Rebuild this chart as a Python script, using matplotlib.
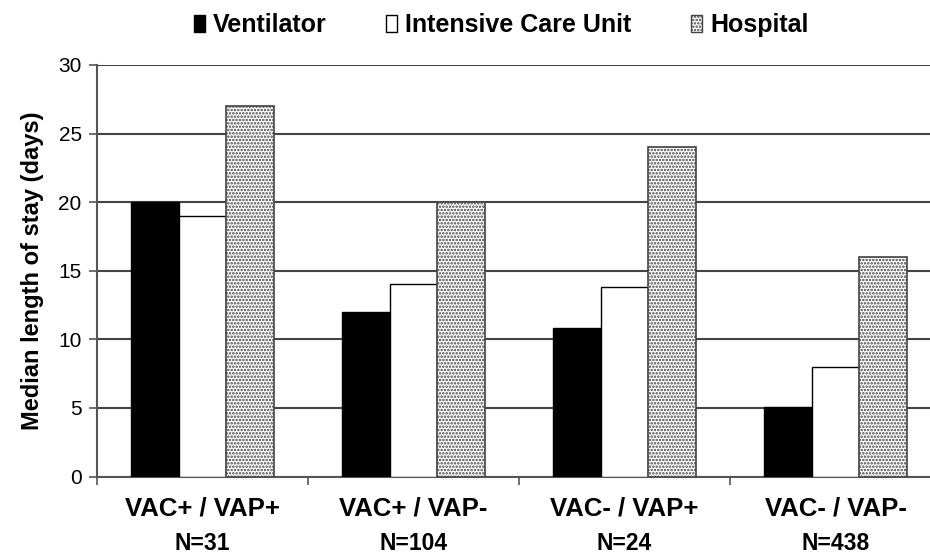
import matplotlib
matplotlib.use("Agg")
import matplotlib.pyplot as plt
import numpy as np

categories = ["VAC+ / VAP+", "VAC+ / VAP-", "VAC- / VAP+", "VAC- / VAP-"]
n_labels = ["N=31", "N=104", "N=24", "N=438"]
ventilator = [20, 12, 10.8, 5.1]
icu = [19, 14, 13.8, 8]
hospital = [27, 20, 24, 16]
series_names = ["Ventilator", "Intensive Care Unit", "Hospital"]
yticks = [0, 5, 10, 15, 20, 25, 30]

plt.rcParams['font.family'] = ['Liberation Sans', 'DejaVu Sans']
plt.rcParams['hatch.color'] = '#555555'
plt.rcParams['hatch.linewidth'] = 1.2

fig = plt.figure(figsize=(9.3, 5.55), dpi=100)
ax = fig.add_axes([97/930, 1-476.5/555, 844/930, (476.5-65)/555])

x = np.arange(len(categories))
w = 0.225
ax.bar(x - w, ventilator, w, color='black', edgecolor='black', linewidth=1, zorder=3, label=series_names[0])
ax.bar(x, icu, w, color='white', edgecolor='black', linewidth=1, zorder=3, label=series_names[1])
ax.bar(x + w, hospital, w, color='white', edgecolor='#444444', linewidth=1.2, hatch='.....', zorder=3, label=series_names[2])

ax.set_xlim(-0.5, 3.5)
ax.set_ylim(0, 30)
ax.set_yticks(yticks)
ax.set_yticklabels([str(v) for v in yticks], fontsize=15)
ax.yaxis.grid(True, color='#444444', linewidth=1.5, zorder=0)
ax.set_axisbelow(True)
ax.tick_params(axis='y', length=6, width=1.2, color='#555555', pad=5)

ax.set_xticks(np.arange(-0.5, 4, 1.0))
ax.set_xticklabels([])
ax.tick_params(axis='x', length=6, width=1.2, color='#555555')

for s in ['top', 'right']:
    ax.spines[s].set_visible(False)
for s in ['left', 'bottom']:
    ax.spines[s].set_color('#555555')
    ax.spines[s].set_linewidth(1.5)

for i, (c, n) in enumerate(zip(categories, n_labels)):
    ax.text(i, -2.35, c, ha='center', va='center', fontsize=18.5, fontweight='bold')
    ax.text(i, -4.9, n, ha='center', va='center', fontsize=16.5, fontweight='bold')

ax.set_ylabel("Median length of stay (days)", fontsize=17, fontweight='bold', labelpad=10)

leg = fig.legend(loc='center', bbox_to_anchor=(501/930, 1-25/555), ncol=3, frameon=False,
                 prop={'weight': 'bold', 'size': 18}, handlelength=0.45, handleheight=0.7,
                 handletextpad=0.3, columnspacing=2.4)
for h in leg.legend_handles:
    h.set_linewidth(1)

fig.savefig("out.png", dpi=100)
